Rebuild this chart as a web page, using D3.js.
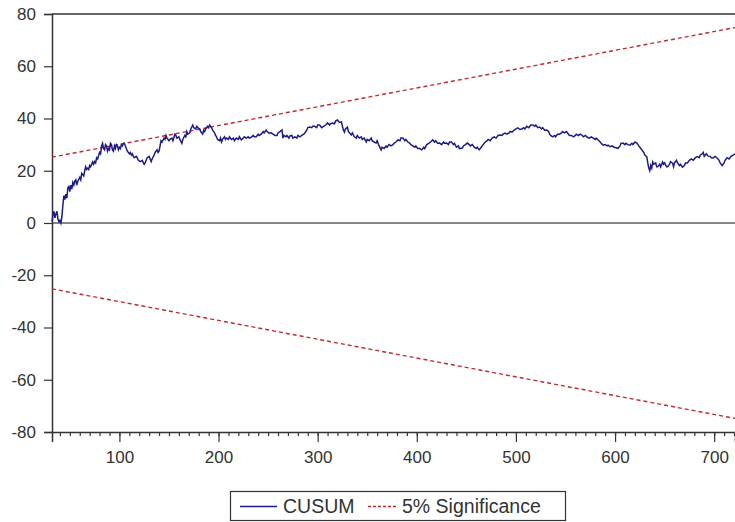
<!DOCTYPE html>
<html>
<head>
<meta charset="utf-8">
<script src="https://cdn.jsdelivr.net/npm/d3@7"></script>
<style>
  body { margin: 0; background: #fff; }
  text { font-family: "Liberation Sans", Arial, sans-serif; }
</style>
</head>
<body>
<div id="vis"></div>
<script>
const obs = [
  32,33,34,35,36,37,38,39,40,41, 42,43,44,45,46,47,48,49,50,51,
  52,53,54,55,56,57,58,60,61,62, 63,64,65,66,67,68,69,70,71,73,
  74,75,76,77,78,80,81,82,83,84, 85,86,87,88,89,90,91,92,93,94,
  95,96,97,98,99,100,101,102,103,104, 105,106,107,108,110,111,112,113,114,115,
  117,118,119,121,123,125,126,127,128,130, 131,132,133,135,136,138,139,140,141,142,
  143,145,146,147,148,150,151,153,154,156, 157,158,160,161,163,164,166,167,168,169,
  171,172,174,175,177,178,179,181,182,184, 185,186,187,189,190,191,193,194,196,197,
  198,199,201,202,203,204,206,207,208,210, 211,213,215,216,218,220,221,223,225,226,
  228,230,231,233,235,236,238,240,241,243, 245,246,248,249,251,253,255,257,259,260,
  262,264,265,266,268,269,271,272,274,275, 277,279,280,282,284,286,287,289,290,292,
  294,295,297,299,300,302,304,306,308,310, 312,313,315,317,318,320,322,324,325,326,
  327,328,330,331,332,334,335,337,339,340, 342,344,345,347,349,350,352,354,355,357,
  359,360,362,364,365,367,369,370,372,374, 376,377,379,381,383,384,386,388,389,391,
  393,394,396,398,399,401,403,405,407,408, 410,412,414,416,418,419,421,423,425,427,
  428,430,432,433,435,437,438,440,442,443, 446,447,449,451,453,454,456,458,460,461,
  463,465,467,469,471,472,474,476,478,480, 482,484,486,487,489,491,493,494,496,498,
  500,502,504,506,508,509,511,513,515,517, 519,520,522,524,526,527,529,531,533,534,
  535,537,539,540,542,544,546,547,549,551, 553,554,556,558,560,561,563,565,567,568,
  570,572,574,576,578,580,581,583,585,586, 588,590,592,593,595,597,599,601,603,605,
  606,608,610,611,613,615,617,618,620,622, 624,626,627,629,630,632,633,634,635,636,
  637,638,639,641,642,643,645,646,648,649, 650,652,653,655,656,658,659,660,662,663,
  665,666,668,670,671,673,675,677,679,681, 683,685,686,688,689,690,692,694,696,697,
  699,701,703,705,706,708,710,711,713,715, 717,719,721];
const cusum = [
  0.5,3,4.5,2,3.5,4.5,1.5,0.5,1,0, 2.5,7,10.5,9,11,9.5,13.5,14,12,14.5,
  13,15.5,14.5,16,16.5,14.5,16,17.5,16.5,19, 18.5,18,20,21.5,20.5,21,20.5,22,21.5,23.4,
  22.5,23.5,23,25,24.5,27,26.5,29.5,30.5,28.5, 28,30,29.5,27.5,28.5,28,30.5,30,28,27.5,
  29.5,28.5,30,29.5,28,29,28.5,30,29.5,30.5, 30.5,29.5,28.5,27.5,26.5,27,26,26.5,25.5,25,
  25.5,25,24,23.5,24,22.5,23,24,25,25.5, 24.5,23.5,24.5,26,27,28,27,27.5,29.5,31.5,
  31,32.5,32,33.5,32.5,31.5,32,32.5,31.5,34, 33.5,32.5,33,32,30.5,32,33.5,33,35,34,
  34.5,36,37.5,36.5,36,37,36.5,36,35,34, 35.5,35,36,37,36.5,37.5,36.5,35.5,34.5,33.5,
  33,32,31.5,32.5,31,32,33,32,32.5,32, 33,32,32.5,31.5,32.5,32,33,31.8,32.5,33,
  32.5,33,32.5,32.8,33.5,33,33,34,33.5,34, 35,34.5,35.6,35,34.4,34.5,34,33.5,33.5,34.5,
  35,35.6,32.5,33.5,33,33.5,32.5,33.3,33.5,32.5, 33,32.5,33.5,33,33.5,34,34.4,35.5,36.5,36.7,
  36.5,37,37,36.5,37.5,37.5,36.5,37,37.5,38.3, 37.5,38,38.3,38,39,39.4,38.5,38.7,37,35.5,
  34.8,36,36.7,35,34.5,33.7,34.5,33,32.5,33.5, 32.5,33,32,32.5,31,32,31.5,32.5,31.5,31,
  30.6,31.5,29.5,28,29,28.5,29.5,29,30,29.5, 30,30.5,31,31.8,31.5,32.5,32.5,31.5,32,31,
  30.5,30,29.5,29,29.5,28.5,28.5,28,29,28.5, 30,30.5,31,31.8,31,31.5,30.5,30.6,30,31,
  30.5,30.6,30,31,31,30,30.5,29,29.5,28.5, 28.7,29.5,30,30.6,30,29.5,30,29,28.5,29,
  28,29,30,31,31.5,32,31.5,32.5,33,32.5, 33.5,33.7,33.5,34,34.4,34,34.5,35,34.8,35.5,
  36,36.4,35.8,36,36.5,36,37,36.5,37.5,37.5, 37,37.5,36.5,36.7,36,36.5,35.5,35.6,35,34,
  33.5,33,33.5,33,34,34,34.5,35,34.5,35, 34,33.5,33.5,33,33.5,34,33.5,34,33.5,33,
  33.5,32.8,32.5,33,32.5,32,32.5,31.8,31,30.5, 29.8,30,29.5,29.8,29.2,29.5,29,28.8,28.6,29.5,
  30.5,30.6,30,30.5,30,29.8,30.5,30,31,30.6, 29.5,28.5,28,27,26,25.4,23,21,20,22,
  21,23.4,22.5,23,21.5,21.5,22.5,21.5,23.4,22.5, 23,21.5,21.5,22.5,23.5,22.9,21.5,23,24,23,
  22,22.5,21.4,22,23,23,24,24.5,24,25, 25.4,25,26,26.5,27,25.5,26.5,25.6,25.5,25,
  24.9,25.5,24.9,24,23,22,23,24,25,24.5, 25.5,26,26.4];

// 5% significance bounds at first and last observation
const boundObs = [32, 721];
const upperBound = [25.2, 74.8];
const lowerBound = [-25.2, -74.8];

const yTicks = [-80, -60, -40, -20, 0, 20, 40, 60, 80];
const xTicks = [100, 200, 300, 400, 500, 600, 700];
const xMinor = d3.range(40, 730, 10);

const legendItems = ["CUSUM", "5% Significance"];

const W = 735, H = 522;
const margin = { top: 14, right: 0, bottom: 90, left: 52 };

const svg = d3.select("#vis").append("svg")
    .attr("width", W)
    .attr("height", H);

const x = d3.scaleLinear()
    .domain([32, 721])
    .range([margin.left, W - margin.right]);

const y = d3.scaleLinear()
    .domain([-80, 80])
    .range([H - margin.bottom, margin.top]);

// top frame line
svg.append("line")
    .attr("x1", margin.left).attr("x2", W)
    .attr("y1", y(80)).attr("y2", y(80))
    .attr("stroke", "#333").attr("stroke-width", 1.5);

// zero line
svg.append("line")
    .attr("x1", margin.left).attr("x2", W)
    .attr("y1", y(0)).attr("y2", y(0))
    .attr("stroke", "#111").attr("stroke-width", 1.2);

// axes (plain hyphen for negatives, as in the original)
const yAxis = svg.append("g")
    .attr("transform", `translate(${margin.left},0)`)
    .call(d3.axisLeft(y).tickValues(yTicks).tickSize(8).tickPadding(8).tickFormat(d => String(d)));

const xMinorAxis = svg.append("g")
    .attr("transform", `translate(0,${y(-80)})`)
    .call(d3.axisBottom(x).tickValues(xMinor).tickSize(4).tickFormat(""));
xMinorAxis.select(".domain").remove();

const xAxis = svg.append("g")
    .attr("transform", `translate(0,${y(-80)})`)
    .call(d3.axisBottom(x).tickValues(xTicks).tickSize(10).tickPadding(9).tickFormat(d => String(d)));

[yAxis, xAxis, xMinorAxis].forEach(g => {
    g.selectAll("path.domain").attr("stroke", "#333").attr("stroke-width", 1.5);
    g.selectAll(".tick line").attr("stroke", "#333").attr("stroke-width", 1.2);
    g.selectAll("text")
        .style("font-family", "'Liberation Sans', Arial, sans-serif")
        .style("font-size", "17px")
        .attr("fill", "#333");
});

// significance bounds
const boundLine = d3.line()
    .x((d, i) => x(boundObs[i]))
    .y(d => y(d));

[upperBound, lowerBound].forEach(b => {
    svg.append("path")
        .attr("d", boundLine(b))
        .attr("fill", "none")
        .attr("stroke", "#c02a2e")
        .attr("stroke-width", 1.4)
        .attr("stroke-dasharray", "4,3");
});

// CUSUM
const cusumLine = d3.line()
    .x((d, i) => x(obs[i]))
    .y(d => y(d));

svg.append("path")
    .attr("d", cusumLine(cusum))
    .attr("fill", "none")
    .attr("stroke", "#1c1c86")
    .attr("stroke-width", 1.5)
    .attr("stroke-linejoin", "miter");

// legend
const legend = svg.append("g");

legend.append("rect")
    .attr("x", 230.5).attr("y", 491.5)
    .attr("width", 335).attr("height", 29)
    .attr("fill", "#fff")
    .attr("stroke", "#333")
    .attr("stroke-width", 1.2);

legend.append("line")
    .attr("x1", 240).attr("x2", 277)
    .attr("y1", 506.5).attr("y2", 506.5)
    .attr("stroke", "#1c1c86").attr("stroke-width", 1.5);

legend.append("text")
    .attr("x", 283).attr("y", 513)
    .attr("font-size", 19.5).attr("fill", "#333")
    .text(legendItems[0]);

legend.append("line")
    .attr("x1", 368).attr("x2", 396)
    .attr("y1", 506.5).attr("y2", 506.5)
    .attr("stroke", "#c02a2e").attr("stroke-width", 1.3)
    .attr("stroke-dasharray", "3,2");

legend.append("text")
    .attr("x", 402).attr("y", 513)
    .attr("font-size", 19.5).attr("fill", "#333")
    .text(legendItems[1]);
</script>
</body>
</html>
